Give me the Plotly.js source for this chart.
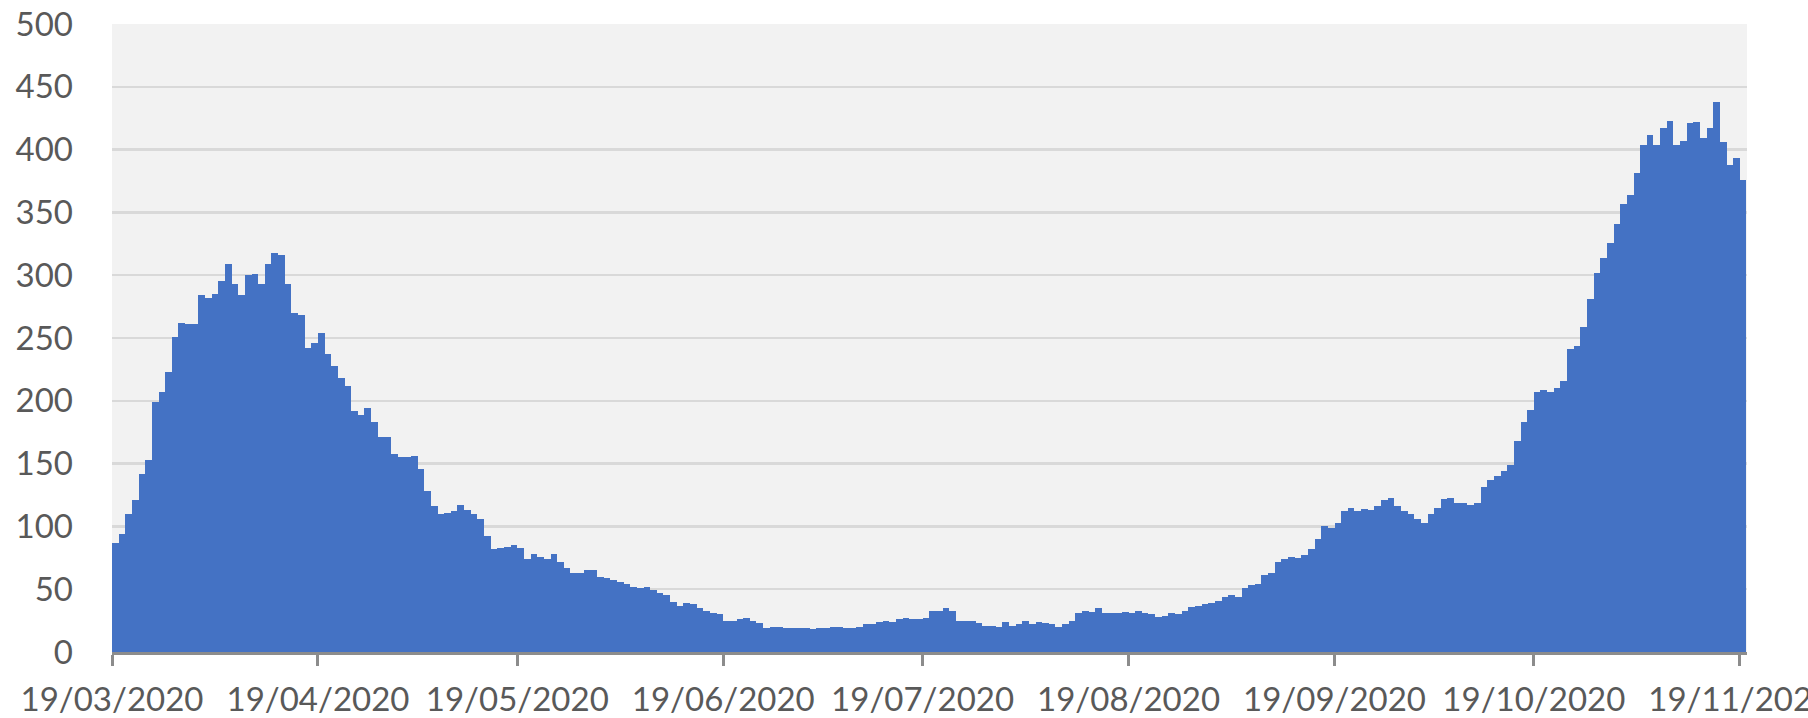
<!DOCTYPE html>
<html>
<head>
<meta charset="utf-8">
<script src="https://cdn.plot.ly/plotly-3.0.1.min.js"></script>
<style>
  html, body { margin: 0; padding: 0; background: #ffffff; }
  #chart { width: 1808px; height: 718px; }
</style>
</head>
<body>
<div id="chart"></div>
<script>
// Daily values, one per day starting 19/03/2020
const startDate = '2020-03-19';
const values = [
  87, 94, 110, 121, 142, 153, 199, 207, 223, 251,
  262, 261, 261, 284, 282, 285, 295, 309, 293, 284,
  300, 301, 293, 309, 318, 316, 293, 270, 268, 242,
  246, 254, 237, 228, 218, 212, 192, 189, 194, 183,
  171, 171, 158, 155, 155, 156, 146, 128, 116, 110,
  111, 112, 117, 113, 110, 106, 92, 82, 83, 84,
  85, 83, 74, 78, 76, 74, 78, 72, 67, 63,
  63, 65, 65, 60, 59, 57, 56, 54, 52, 51,
  52, 49, 47, 45, 40, 37, 39, 38, 35, 33,
  31, 30, 25, 25, 26, 27, 25, 23, 19, 20,
  20, 19, 19, 19, 19, 18, 19, 19, 20, 20,
  19, 19, 20, 22, 22, 24, 25, 24, 26, 27,
  26, 26, 27, 33, 33, 35, 33, 25, 25, 25,
  23, 21, 21, 20, 24, 21, 22, 25, 22, 24,
  23, 22, 20, 22, 25, 31, 33, 32, 35, 31,
  31, 31, 32, 31, 33, 31, 30, 28, 29, 31,
  30, 33, 36, 37, 38, 39, 41, 44, 45, 44,
  51, 53, 54, 61, 63, 72, 74, 76, 75, 77,
  82, 90, 100, 99, 103, 112, 115, 112, 114, 113,
  116, 121, 123, 116, 112, 110, 106, 103, 110, 115,
  122, 123, 119, 119, 117, 119, 131, 137, 140, 144,
  149, 168, 183, 193, 207, 209, 207, 210, 216, 241,
  244, 259, 281, 302, 314, 326, 341, 357, 364, 381,
  404, 412, 404, 417, 423, 404, 407, 421, 422, 409,
  417, 438, 406, 388, 393, 376
];
const tickDates = ['2020-03-19', '2020-04-19', '2020-05-19', '2020-06-19', '2020-07-19',
                   '2020-08-19', '2020-09-19', '2020-10-19', '2020-11-19'];
const tickLabels = ['19/03/2020', '19/04/2020', '19/05/2020', '19/06/2020', '19/07/2020',
                    '19/08/2020', '19/09/2020', '19/10/2020', '19/11/2020'];
const yTicks = [0, 50, 100, 150, 200, 250, 300, 350, 400, 450, 500];

// category dates (one per day)
const dates = values.map((v, i) => {
  const d = new Date(startDate + 'T00:00:00Z');
  d.setUTCDate(d.getUTCDate() + i);
  return d.toISOString().slice(0, 10);
});

const fontFamily = 'Lato, "Open Sans", sans-serif';
const textColor = '#595959';

const trace = {
  type: 'bar',
  x: dates,
  y: values,
  xperiod: 86400000,
  xperiodalignment: 'middle',
  marker: { color: '#4472c4', line: { width: 0 } },
  hoverinfo: 'x+y'
};

const layout = {
  width: 1808,
  height: 718,
  margin: { l: 112, r: 61, t: 24, b: 66, pad: 0 },
  paper_bgcolor: '#ffffff',
  plot_bgcolor: '#f2f2f2',
  bargap: 0,
  showlegend: false,
  font: { family: fontFamily, size: 33, color: textColor },
  xaxis: {
    type: 'date',
    range: ['2020-03-19', '2020-11-20 02:00'],
    tickmode: 'array',
    tickvals: tickDates,
    ticktext: tickLabels,
    ticks: 'outside',
    ticklen: 11,
    tickwidth: 3,
    tickcolor: '#8c8c8c',
    showline: true,
    linecolor: '#8c8c8c',
    linewidth: 3,
    showgrid: false,
    zeroline: false,
    automargin: false,
    ticklabeloverflow: 'allow',
    ticklabelstandoff: 5,
    tickfont: { family: fontFamily, size: 33, color: textColor }
  },
  yaxis: {
    range: [0, 500],
    tickmode: 'array',
    tickvals: yTicks,
    ticks: '',
    showline: false,
    showgrid: true,
    gridcolor: '#d9d9d9',
    gridwidth: 2.5,
    zeroline: false,
    automargin: false,
    ticklabelstandoff: 38,
    tickfont: { family: fontFamily, size: 33, color: textColor }
  }
};

Plotly.newPlot('chart', [trace], layout, { displayModeBar: false, staticPlot: true });
</script>
</body>
</html>
